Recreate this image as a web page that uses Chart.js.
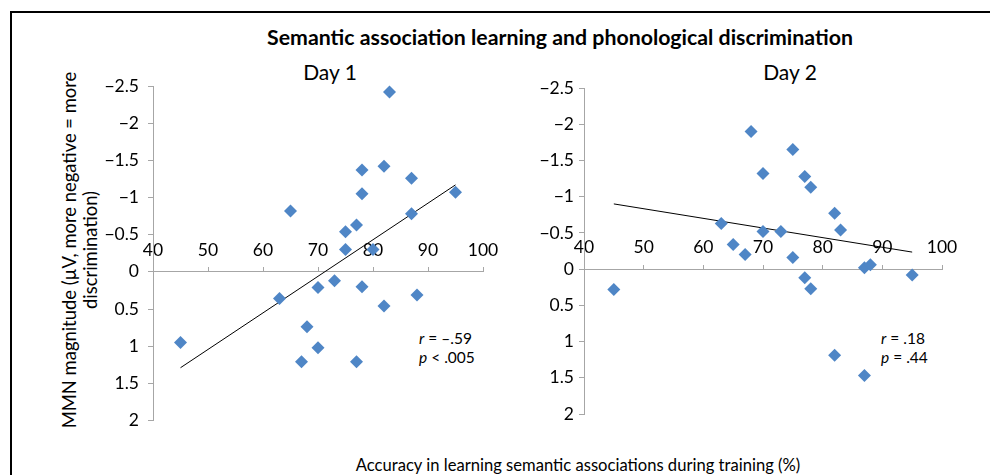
<!DOCTYPE html>
<html>
<head>
<meta charset="utf-8">
<script src="https://cdn.jsdelivr.net/npm/chart.js@4.4.0/dist/chart.umd.min.js"></script>
<style>
    body { margin: 0; background: #fff; width: 990px; height: 475px; overflow: hidden; position: relative; font-family: Lato, sans-serif; color: #000; }
    .frame { position: absolute; left: 10px; top: 11px; width: 1100px; height: 600px; border-left: 2px solid #000; border-top: 2px solid #000; }
    .box { position: absolute; }
    .txt { position: absolute; white-space: nowrap; transform: translate(-50%, -50%); }
    .title { font-weight: bold; font-size: 21.3px; }
    .day { font-size: 21px; }
    .ytitle { font-size: 18.4px; line-height: 21px; text-align: center; transform: translate(-50%, -50%) rotate(-90deg); }
    .xtitle { font-size: 16.6px; }
    .stat { position: absolute; font-size: 15.5px; white-space: nowrap; transform: translateY(-50%); }
</style>
</head>
<body>
<div class="frame"></div>

<div class="txt title" style="left:560px; top:37px;">Semantic association learning and phonological discrimination</div>
<div class="txt day" style="left:330px; top:71px;">Day 1</div>
<div class="txt day" style="left:790px; top:71px;">Day 2</div>
<div class="txt ytitle" style="left:80px; top:250px;">MMN magnitude (µV, more negative = more<br>discrimination)</div>
<div class="txt xtitle" style="left:578px; top:465px;">Accuracy in learning semantic associations during training (%)</div>

<div class="stat" style="left:419px; top:338px;"><i>r</i> = –.59</div>
<div class="stat" style="left:419px; top:357px;"><i>p</i> &lt; .005</div>
<div class="stat" style="left:881px; top:338px;"><i>r</i> = .18</div>
<div class="stat" style="left:881px; top:357px;"><i>p</i> = .44</div>

<div class="box" style="left:100px; top:60px;"><canvas id="day1Chart" width="400" height="380"></canvas></div>
<div class="box" style="left:530px; top:60px;"><canvas id="day2Chart" width="440" height="380"></canvas></div>

<script>
// Axis ticks
const xTickValues = [40, 50, 60, 70, 80, 90, 100];
const yTickValues = [-2.5, -2, -1.5, -1, -0.5, 0, 0.5, 1, 1.5, 2];

// Day 1: accuracy (%) and MMN magnitude (µV)
const day1X = [83, 65, 78, 82, 87, 78, 95, 87, 77, 75, 75, 80, 73, 70, 78, 63, 88, 82, 68, 45, 70, 67, 77];
const day1Y = [-2.42, -0.82, -1.37, -1.42, -1.26, -1.05, -1.07, -0.78, -0.63, -0.54, -0.30, -0.30, 0.12, 0.21, 0.20, 0.36, 0.31, 0.46, 0.74, 0.95, 1.02, 1.21, 1.21];
const day1TrendX = [45, 95];
const day1TrendY = [1.29, -1.17];

// Day 2
const day2X = [68, 75, 70, 77, 78, 82, 83, 63, 70, 73, 65, 67, 75, 87, 88, 45, 77, 78, 95, 82, 87];
const day2Y = [-1.90, -1.65, -1.32, -1.28, -1.13, -0.77, -0.54, -0.63, -0.52, -0.52, -0.34, -0.20, -0.16, -0.02, -0.06, 0.28, 0.12, 0.27, 0.08, 1.19, 1.47];
const day2TrendX = [45, 95];
const day2TrendY = [-0.90, -0.235];

const axisColor = '#a6a6a6';
const markerColor = '#4F86C6';
const tickFont = { family: 'Lato', size: 17.5 };

const toPoints = (xs, ys) => xs.map((x, i) => ({ x: x, y: ys[i] }));

const makeChart = (id, xs, ys, tx, ty, yWidth, yPad, padding) => {
    const ctx = document.getElementById(id);
    return new Chart(ctx.getContext('2d'), {
        type: 'scatter',
        data: {
            datasets: [{
                data: toPoints(xs, ys),
                pointStyle: 'rectRot',
                pointRadius: 6.5,
                pointHoverRadius: 6.5,
                backgroundColor: markerColor,
                borderWidth: 0,
                clip: false
            }, {
                data: toPoints(tx, ty),
                showLine: true,
                borderColor: '#000',
                borderWidth: 1,
                pointRadius: 0,
                clip: false
            }]
        },
        options: {
            responsive: false,
            animation: false,
            events: [],
            layout: { padding: padding },
            plugins: { legend: { display: false }, tooltip: { enabled: false } },
            scales: {
                x: {
                    type: 'linear',
                    min: 40,
                    max: 100,
                    position: { y: 0 },
                    afterBuildTicks: s => { s.ticks = xTickValues.map(v => ({ value: v })); },
                    grid: { drawOnChartArea: false, tickLength: -5, color: axisColor },
                    border: { color: axisColor },
                    ticks: { padding: -27, font: tickFont, color: '#000', maxRotation: 0, autoSkip: false }
                },
                y: {
                    type: 'linear',
                    reverse: true,
                    min: -2.5,
                    max: 2,
                    afterBuildTicks: s => { s.ticks = yTickValues.map(v => ({ value: v })); },
                    afterFit: s => { s.width = yWidth; },
                    grid: { drawOnChartArea: false, tickLength: 5, color: axisColor },
                    border: { color: axisColor },
                    ticks: {
                        padding: yPad,
                        font: tickFont,
                        color: '#000',
                        autoSkip: false,
                        callback: v => v < 0 ? '\u2212' + Math.abs(v) : String(v)
                    }
                }
            }
        }
    });
};

document.addEventListener('DOMContentLoaded', () => {
    makeChart('day1Chart', day1X, day1Y, day1TrendX, day1TrendY, 53, 9, { top: 26, right: 17, bottom: 15, left: 0 });
    makeChart('day2Chart', day2X, day2Y, day2TrendX, day2TrendY, 54, 5, { top: 28, right: 28, bottom: 26, left: 0 });
});
</script>
</body>
</html>
